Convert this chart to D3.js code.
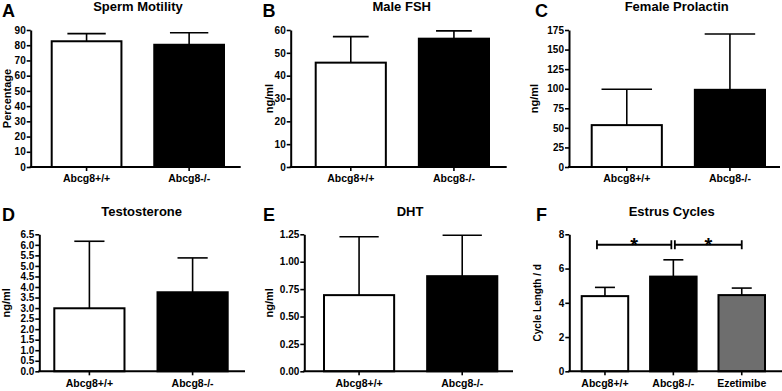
<!DOCTYPE html>
<html lang="en">
<head>
<meta charset="utf-8">
<title>Abcg8 reproductive phenotypes</title>
<script src="https://d3js.org/d3.v7.min.js"></script>
<style>
  body { margin: 0; background: #fff; }
  svg text { font-family: "Liberation Sans", Arial, sans-serif; font-weight: bold; fill: #000; }
</style>
</head>
<body>
<svg width="782" height="391"></svg>
<script>
// categories
const genotypes = ["Abcg8+/+", "Abcg8-/-"];
const estrusGroups = ["Abcg8+/+", "Abcg8-/-", "Ezetimibe"];

// means and SEM
const spermMean = [82.6, 80.3];
const spermErr = [5.0, 7.9];
const fshMean = [45.7, 56.2];
const fshErr = [11.4, 3.4];
const prolactinMean = [53.5, 98.6];
const prolactinErr = [45.9, 71.3];
const testoMean = [2.99, 3.75];
const testoErr = [3.18, 1.63];
const dhtMean = [0.695, 0.868];
const dhtErr = [0.533, 0.373];
const estrusMean = [4.39, 5.53, 4.45];
const estrusErr = [0.51, 0.98, 0.41];

// y tick values
const spermTicks = [0, 10, 20, 30, 40, 50, 60, 70, 80, 90];
const fshTicks = [0, 10, 20, 30, 40, 50, 60];
const prolactinTicks = [0, 25, 50, 75, 100, 125, 150, 175];
const testoTicks = [0, 0.5, 1, 1.5, 2, 2.5, 3, 3.5, 4, 4.5, 5, 5.5, 6, 6.5];
const dhtTicks = [0, 0.25, 0.5, 0.75, 1, 1.25];
const estrusTicks = [0, 2, 4, 6, 8];

// significance brackets for panel F
const estrusSig = [
  {from: "Abcg8+/+", to: "Abcg8-/-", label: "*"},
  {from: "Abcg8-/-", to: "Ezetimibe", label: "*"}
];

const fills = ["#ffffff", "#000000", "#6e6e6e"];

const svg = d3.select("svg");

const panels = [
  {letter: "A", title: "Sperm Motility", yLabel: "Percentage", cats: genotypes, mean: spermMean, err: spermErr,
   ticks: spermTicks, fmt: d3.format("d"), cap: 0.55,
   ax: 30.7, x0: 51.7, x1: 224, xEnd: 240.7, top: 30, bottom: 167, labX: 11, titleX: 138, titleY: 11, letX: 2, letY: 17},
  {letter: "B", title: "Male FSH", yLabel: "ng/ml", cats: genotypes, mean: fshMean, err: fshErr,
   ticks: fshTicks, fmt: d3.format("d"), cap: 0.51,
   ax: 290.7, x0: 315.7, x1: 489, xEnd: 506.7, top: 30, bottom: 167, labX: 272.7, titleX: 401.7, titleY: 11, letX: 262.5, letY: 17},
  {letter: "C", title: "Female Prolactin", yLabel: "ng/ml", cats: genotypes, mean: prolactinMean, err: prolactinErr,
   ticks: prolactinTicks, fmt: d3.format("d"), cap: 0.72,
   ax: 569, x0: 591.7, x1: 765, xEnd: 780, top: 30, bottom: 167, labX: 538.3, titleX: 676.7, titleY: 11, letX: 535, letY: 17},
  {letter: "D", title: "Testosterone", yLabel: "ng/ml", cats: genotypes, mean: testoMean, err: testoErr,
   ticks: testoTicks, fmt: d3.format(".1f"), cap: 0.43,
   ax: 39.3, x0: 54.3, x1: 227.7, xEnd: 245, top: 234.3, bottom: 371.3, labX: 9.8, titleX: 141.7, titleY: 215.7, letX: 2, letY: 220.5},
  {letter: "E", title: "DHT", yLabel: "ng/ml", cats: genotypes, mean: dhtMean, err: dhtErr,
   ticks: dhtTicks, fmt: d3.format(".2f"), cap: 0.56,
   ax: 304.3, x0: 324, x1: 497.3, xEnd: 513, top: 234.3, bottom: 371.3, labX: 273.3, titleX: 410, titleY: 215.7, letX: 263, letY: 220.5},
  {letter: "F", title: "Estrus Cycles", yLabel: "Cycle Length / d", cats: estrusGroups, mean: estrusMean, err: estrusErr,
   ticks: estrusTicks, fmt: d3.format("d"), sig: estrusSig, labSize: 10, cap: 0.43,
   ax: 569.3, x0: 581.7, x1: 765, xEnd: 782, top: 234.3, bottom: 371.3, labX: 541, titleX: 671.7, titleY: 215.7, letX: 536, letY: 220.5}
];

panels.forEach(p => {
  const g = svg.append("g");
  const x = d3.scaleBand().domain(p.cats).range([p.x0, p.x1]).paddingInner(0.32).paddingOuter(0);
  const y = d3.scaleLinear().domain([0, d3.max(p.ticks)]).range([p.bottom, p.top]);
  const bw = x.bandwidth();
  const half = bw * p.cap / 2;

  // bars
  g.selectAll("rect.bar")
    .data(p.cats)
    .join("rect")
    .attr("class", "bar")
    .attr("x", d => x(d))
    .attr("y", (d, i) => y(p.mean[i]))
    .attr("width", bw)
    .attr("height", (d, i) => y(0) - y(p.mean[i]))
    .attr("fill", (d, i) => fills[i])
    .attr("stroke", "#000")
    .attr("stroke-width", 2);

  // error bars (upper only)
  const eb = g.selectAll("g.err").data(p.cats).join("g").attr("class", "err");
  eb.append("line")
    .attr("x1", d => x(d) + bw / 2).attr("x2", d => x(d) + bw / 2)
    .attr("y1", (d, i) => y(p.mean[i])).attr("y2", (d, i) => y(p.mean[i] + p.err[i]))
    .attr("stroke", "#000").attr("stroke-width", 1.6);
  eb.append("line")
    .attr("x1", d => x(d) + bw / 2 - half).attr("x2", d => x(d) + bw / 2 + half)
    .attr("y1", (d, i) => y(p.mean[i] + p.err[i])).attr("y2", (d, i) => y(p.mean[i] + p.err[i]))
    .attr("stroke", "#000").attr("stroke-width", 1.6);

  // y axis
  const ya = g.append("g")
    .attr("transform", `translate(${p.ax},0)`)
    .call(d3.axisLeft(y).tickValues(p.ticks).tickFormat(p.fmt).tickSize(4).tickSizeOuter(0).tickPadding(1));
  ya.select(".domain").attr("stroke-width", 2);
  ya.selectAll(".tick line").attr("stroke-width", 1.6);
  ya.selectAll("text").attr("font-size", 10);

  // x axis
  const xa = g.append("g")
    .attr("transform", `translate(0,${p.bottom})`)
    .call(d3.axisBottom(x).tickSize(4).tickPadding(4));
  xa.select(".domain").remove();
  xa.selectAll(".tick line").attr("stroke-width", 1.6);
  xa.selectAll("text").attr("font-size", 10.5);
  g.append("line")
    .attr("x1", p.ax - 1).attr("x2", p.xEnd)
    .attr("y1", p.bottom).attr("y2", p.bottom)
    .attr("stroke", "#000").attr("stroke-width", 2);

  // labels
  g.append("text")
    .attr("transform", `translate(${p.labX},${(p.top + p.bottom) / 2}) rotate(-90)`)
    .attr("text-anchor", "middle")
    .attr("font-size", p.labSize || 11)
    .text(p.yLabel);
  g.append("text")
    .attr("x", p.titleX).attr("y", p.titleY)
    .attr("text-anchor", "middle")
    .attr("font-size", 13)
    .text(p.title);
  g.append("text")
    .attr("x", p.letX).attr("y", p.letY)
    .attr("font-size", 18)
    .text(p.letter);

  // significance brackets
  if (p.sig) {
    const by = y(7.39);
    p.sig.forEach((s, k) => {
      const xa1 = x(s.from) + bw / 2 + (k === 0 ? -8 : 1.5);
      const xa2 = x(s.to) + bw / 2 + (k === 0 ? -2 : 0);
      const sg = g.append("g").attr("stroke", "#000").attr("stroke-width", 1.8);
      sg.append("line").attr("x1", xa1).attr("x2", xa2).attr("y1", by).attr("y2", by);
      sg.append("line").attr("x1", xa1).attr("x2", xa1).attr("y1", by - 4.5).attr("y2", by + 4.5);
      sg.append("line").attr("x1", xa2).attr("x2", xa2).attr("y1", by - 4.5).attr("y2", by + 4.5);
      g.append("text")
        .attr("x", (xa1 + xa2) / 2).attr("y", by + 7)
        .attr("text-anchor", "middle")
        .attr("font-size", 20)
        .text(s.label);
    });
  }
});
</script>
</body>
</html>
